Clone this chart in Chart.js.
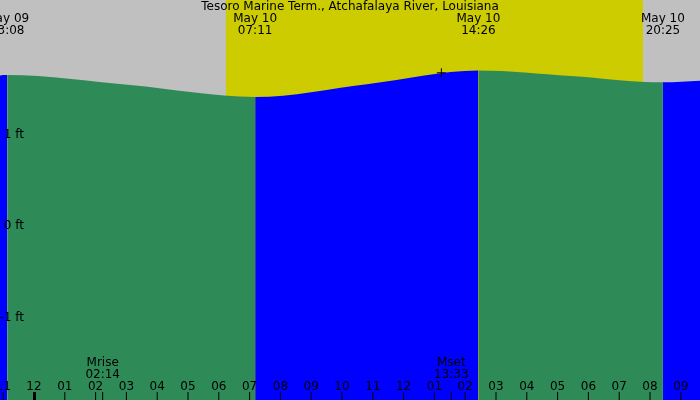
<!DOCTYPE html>
<html>
<head>
<script src="https://cdn.jsdelivr.net/npm/chart.js@4"></script>
<style>
  body { margin: 0; }
  #wrap { width: 700px; height: 400px; }
</style>
</head>
<body>
<div id="wrap"><canvas id="tideChart"></canvas></div>
<script>
// hours relative to midnight May 10
const extremeHours = [-0.87, 7.18, 14.43, 20.42];
const extremeLabels = [['May 09', '23:08'], ['May 10', '07:11'], ['May 10', '14:26'], ['May 10', '20:25']];
const tideHours = [-1.3, -0.87, 3.12, 7.18, 10.81, 14.43, 17.43, 20.42, 21.7];
const tideHeights = [1.64, 1.65, 1.54, 1.41, 1.55, 1.70, 1.64, 1.57, 1.59];
const sunrise = 6.23, sunset = 19.77;
const moonEvents = [['Mrise', '02:14', 2.23], ['Mset', '13:33', 13.55]];
const hourTicks = [-1, 0, 1, 2, 3, 4, 5, 6, 7, 8, 9, 10, 11, 12, 13, 14, 15, 16, 17, 18, 19, 20, 21];
const ftTicks = [1, 0, -1];
const nowMark = [13.21, 1.68];

const BLUE = '#0000ff', GREEN = '#2e8b57';
const PXH = 30.8;

const segColor = c => (c.p1.parsed.y > c.p0.parsed.y ? BLUE : GREEN);

const pad = n => String(n).padStart(2, '0');

const backdrop = {
  id: 'backdrop',
  beforeDraw(chart) {
    const { ctx, scales: { x }, width, height } = chart;
    ctx.save();
    ctx.fillStyle = '#c0c0c0';
    ctx.fillRect(0, 0, width, height);
    ctx.fillStyle = '#cccc00';
    const a = x.getPixelForValue(sunrise), b = x.getPixelForValue(sunset);
    ctx.fillRect(a, 0, b - a, height);
    ctx.restore();
  },
  afterDraw(chart) {
    const { ctx, scales: { x, y } } = chart;
    ctx.save();
    ctx.fillStyle = '#000';
    ctx.font = '12px "DejaVu Sans", sans-serif';
    ctx.textAlign = 'center';
    ctx.textBaseline = 'top';
    ctx.fillText('Tesoro Marine Term., Atchafalaya River, Louisiana', 350, 1);
    extremeLabels.forEach((l, i) => {
      const px = x.getPixelForValue(extremeHours[i]);
      ctx.fillText(l[0], px, 13);
      ctx.fillText(l[1], px, 25);
    });
    ctx.textAlign = 'right';
    ctx.textBaseline = 'middle';
    ftTicks.forEach(v => ctx.fillText(v + ' ft', 24, y.getPixelForValue(v)));
    ctx.textAlign = 'center';
    ctx.textBaseline = 'alphabetic';
    hourTicks.forEach(h => {
      const px = x.getPixelForValue(h);
      const hh = ((h % 12) + 12) % 12 || 12;
      ctx.fillText(pad(hh), px, 390);
      ctx.fillRect(px - (h === 0 ? 1 : 0.5), 392, h === 0 ? 3 : 1, 8);
    });
    moonEvents.forEach(m => {
      const px = x.getPixelForValue(m[2]);
      ctx.fillText(m[0], px, 366);
      ctx.fillText(m[1], px, 378);
      ctx.fillRect(px - 0.5, 392, 1, 8);
    });
    const nx = x.getPixelForValue(nowMark[0]), ny = y.getPixelForValue(nowMark[1]);
    ctx.fillRect(nx - 4, ny, 9, 1);
    ctx.fillRect(nx, ny - 4, 1, 9);
    ctx.restore();
  }
};

new Chart(document.getElementById('tideChart'), {
  type: 'line',
  data: {
    datasets: [{
      data: tideHours.map((h, i) => ({ x: h, y: tideHeights[i] })),
      borderWidth: 0,
      pointRadius: 0,
      fill: 'start',
      cubicInterpolationMode: 'monotone',
      backgroundColor: GREEN,
      borderColor: 'rgba(0,0,0,0)',
      segment: { backgroundColor: segColor }
    }]
  },
  options: {
    responsive: true,
    maintainAspectRatio: false,
    animation: false,
    layout: { padding: 0 },
    plugins: { legend: { display: false }, tooltip: { enabled: false } },
    scales: {
      x: { type: 'linear', min: -34 / PXH, max: 666 / PXH, display: false },
      y: { min: -174 / 91.5, max: 226 / 91.5, display: false }
    }
  },
  plugins: [backdrop]
});
</script>
</body>
</html>
